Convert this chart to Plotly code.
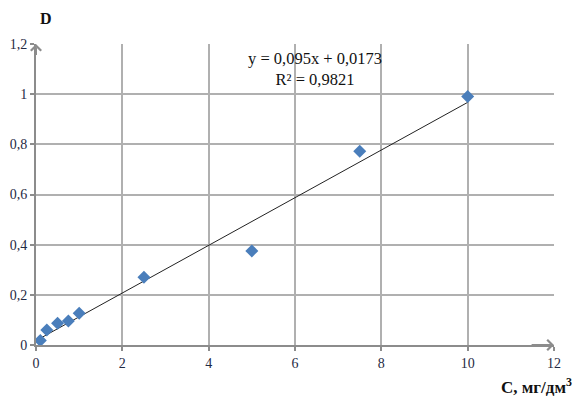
import plotly.graph_objects as go

C = [0.1, 0.25, 0.5, 0.75, 1.0, 2.5, 5.0, 7.5, 10.0]
D = [0.018, 0.06, 0.087, 0.096, 0.127, 0.27, 0.375, 0.772, 0.991]
slope = 0.095
intercept = 0.0173
eq_text = "y = 0,095x + 0,0173<br>R² = 0,9821"
x_ticks = [0, 2, 4, 6, 8, 10, 12]
y_ticks = [0, 0.2, 0.4, 0.6, 0.8, 1.0, 1.2]

FONT = "Liberation Serif, Times New Roman, serif"
GRID = "#b0b0b0"
AX = "#8c8c8c"
TICKC = "#1f2a44"

x_line = [min(C), max(C)]
y_line = [slope * v + intercept for v in x_line]

fig = go.Figure()
fig.add_trace(go.Scatter(x=x_line, y=y_line, mode="lines",
                         line=dict(color="#222222", width=1), hoverinfo="skip"))
fig.add_trace(go.Scatter(x=C, y=D, mode="markers",
                         marker=dict(symbol="diamond", size=10, color="#4a7ebb")))

L, R, T, B = 36, 22, 44, 68
W, H = 576, 413
pw, ph = W - L - R, H - T - B

def px(xp):
    return (xp - L) / pw

def py(yp):
    return (H - B - yp) / ph

axis_common = dict(showgrid=True, gridcolor=GRID, gridwidth=1.5,
                   zeroline=False, showline=True, linecolor=AX, linewidth=2,
                   ticks="outside", ticklen=4, tickcolor=AX, tickwidth=2, automargin=False,
                   tickfont=dict(family=FONT, size=14, color=TICKC))

fig.update_layout(
    width=W, height=H,
    margin=dict(l=L, r=R, t=T, b=B, autoexpand=False),
    paper_bgcolor="white", plot_bgcolor="white",
    showlegend=False,
    separators=", ",
    font=dict(family=FONT, size=14, color=TICKC),
    xaxis=dict(range=[0, 12], tickvals=x_ticks, **axis_common),
    yaxis=dict(range=[0, 1.2], tickvals=y_ticks, **axis_common),
)

# axis arrows
fig.add_annotation(x=12, y=0, ax=11.4, ay=0, xref="x", yref="y", axref="x", ayref="y",
                   text=" ", showarrow=True, arrowhead=4, arrowsize=1, arrowwidth=2,
                   arrowcolor=AX)
fig.add_annotation(x=0, y=1.2, ax=0, ay=1.12, xref="x", yref="y", axref="x", ayref="y",
                   text=" ", showarrow=True, arrowhead=4, arrowsize=1, arrowwidth=2,
                   arrowcolor=AX)

fig.add_annotation(x=px(315), y=py(69), xref="paper", yref="paper", text=eq_text, showarrow=False,
                   xanchor="center", yanchor="middle", borderpad=0,
                   font=dict(family=FONT, size=16.5, color="#111111"))
fig.add_annotation(x=px(46), y=py(18), xref="paper", yref="paper",
                   text="<b>D</b>", showarrow=False, xanchor="center", yanchor="middle",
                   font=dict(family=FONT, size=16, color="#111111"))
fig.add_annotation(x=px(574), y=py(386), xref="paper", yref="paper",
                   text="<b>C, мг/дм<sup>3</sup></b>", showarrow=False, xanchor="right", yanchor="middle",
                   font=dict(family=FONT, size=17, color="#111111"))

fig.write_html("out.html", config={"displayModeBar": False},
               post_script="document.body.style.margin='0';document.body.style.padding='0';")
